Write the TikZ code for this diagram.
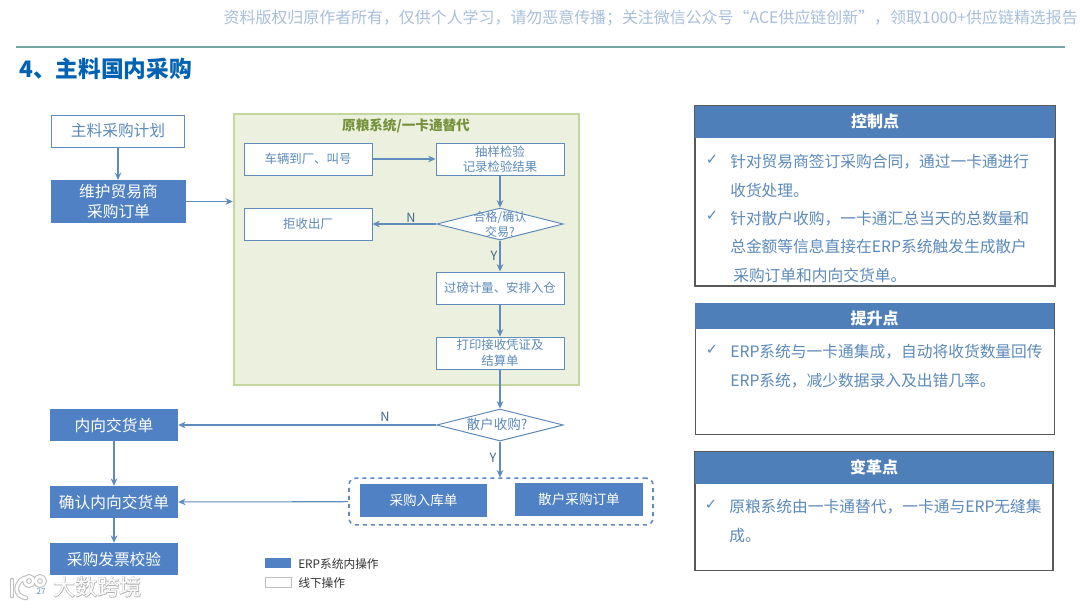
\documentclass[tikz,border=0pt]{standalone}
\usepackage{fontspec}
\setmainfont{Noto Sans CJK SC}
\newfontfamily\chkfont{DejaVu Sans}
\newfontfamily\wmfatfont[FakeBold=4]{Noto Sans CJK SC}
\usetikzlibrary{arrows.meta,shapes.geometric}
\definecolor{flowblue}{HTML}{4F81C4}
\definecolor{linkblue}{HTML}{5F8BBD}
\definecolor{wordblue}{HTML}{5C8ABA}
\definecolor{headblue}{HTML}{4F7FB9}
\definecolor{greenfill}{HTML}{EBF1DE}
\definecolor{greenline}{HTML}{C3D69B}
\definecolor{greenword}{HTML}{76923C}
\tikzset{
  sizeA/.style={font=\fontsize{11.8}{15}\selectfont},
  sizeB/.style={font=\fontsize{9.3}{11.6}\selectfont},
  sizeC/.style={font=\fontsize{10.2}{13}\selectfont},
  erpbox/.style={rectangle,fill=flowblue,text=white,inner sep=0pt,align=center},
  offbox/.style={rectangle,draw=linkblue,line width=0.75pt,fill=white,text=wordblue,inner sep=0pt,align=center},
  smallbox/.style={offbox,sizeB,minimum width=96pt,minimum height=24pt},
  leftbox/.style={erpbox,sizeA,minimum width=96pt,minimum height=24pt},
  decide/.style={diamond,draw=linkblue,line width=0.75pt,fill=white,inner sep=0pt,minimum width=95pt,minimum height=24pt},
  link/.style={-{Stealth[length=5.5pt,width=5pt]},draw=linkblue,line width=0.8pt},
  yn/.style={text=wordblue!75!black,font=\fontsize{9.5}{11}\selectfont,inner sep=0pt},
  panelhead/.style={rectangle,fill=headblue,text=white,font=\fontsize{12}{15}\selectfont\bfseries,inner sep=0pt,minimum width=270pt},
  panelbody/.style={rectangle,draw=black!65,line width=0.8pt,fill=white,inner sep=0pt},
  pointline/.style={anchor=west,text=wordblue,sizeA,inner sep=0pt,text height=10.5pt,text depth=1.5pt},
  tick/.style={text=wordblue,font=\chkfont\fontsize{11}{12}\selectfont,inner sep=0pt},
}
\begin{document}
\begin{tikzpicture}[x=0.75pt,y=-0.75pt,>=Stealth]
\useasboundingbox (0,0) rectangle (1080,608);
\fill[white] (0,0) rectangle (1080,608);
% ---- 页眉与标题 ----
\node[anchor=east,inner sep=0pt,text=headblue!50!white,font=\fontsize{11.95}{14}\selectfont] (notice) at (1078,18)
  {资料版权归原作者所有，仅供个人学习，请勿恶意传播；关注微信公众号“ACE供应链创新”，领取1000+供应链精选报告};
\coordinate (ruleL) at (16,47);
\coordinate (ruleR) at (1065,47);
\draw[color=teal!55!gray!70,line width=0.9pt] (ruleL) -- (ruleR);
\node[anchor=west,inner sep=0pt,text=blue!45!cyan!70!black,font=\fontsize{17}{20}\selectfont\bfseries] (pagetitle) at (19,69) {4、主料国内采购};
% ---- 一卡通区域 ----
\node[rectangle,draw=greenline,fill=greenfill,line width=1.6pt,minimum width=259pt,minimum height=203pt,inner sep=0pt] (cardzone) at (406.5,249.5) {};
\node[text=greenword,inner sep=0pt,font=\fontsize{10.2}{12}\selectfont\bfseries] (cardtitle) at (406,126) {原粮系统/一卡通替代};
% ---- 左列 ----
\node[offbox,sizeA,minimum width=100pt,minimum height=24pt] (plan) at (118,131) {主料采购计划};
\node[erpbox,sizeA,minimum width=101pt,minimum height=32pt] (order) at (118.5,201.5) {维护贸易商\\采购订单};
\node[leftbox] (delivery) at (114,425) {内向交货单};
\node[leftbox] (confirm) at (114,502) {确认内向交货单};
\node[leftbox] (invoice) at (114,559) {采购发票校验};
% ---- 区域内步骤 ----
\node[smallbox] (arrive) at (308,159) {车辆到厂、叫号};
\node[smallbox] (sample) at (500,159) {抽样检验\\记录检验结果};
\node[smallbox] (reject) at (308,224) {拒收出厂};
\node[decide] (check) at (500,224) {};
\node[text=wordblue,inner sep=0pt,align=center,font=\fontsize{9}{11.2}\selectfont] (checkword) at (500,224) {合格/确认\\交易?};
\node[smallbox] (weigh) at (500,288) {过磅计量、安排入仓};
\node[smallbox] (receipt) at (500,353) {打印接收凭证及\\结算单};
\node[decide] (retail) at (500,425) {};
\node[text=wordblue,inner sep=0pt,sizeC] (retailword) at (497,424) {散户收购?};
% ---- 虚线框与两张单据 ----
\node[rectangle,rounded corners=5pt,draw=linkblue,dashed,line width=1.2pt,minimum width=228pt,minimum height=35pt,inner sep=0pt] (pair) at (501,501.5) {};
\node[erpbox,sizeC,minimum width=95.5pt,minimum height=24.5pt] (inbound) at (423.5,500.5) {采购入库单};
\node[erpbox,sizeC,minimum width=96pt,minimum height=24.5pt] (retailorder) at (579,499.5) {散户采购订单};
% ---- 连线 ----
\draw[link] (plan) -- (plan |- order.north);
\draw[link] (order) -- (order -| cardzone.west);
\draw[link] (arrive) -- (sample);
\draw[link] (sample) -- (check);
\draw[link] (check) -- (reject);
\draw[link] (check) -- (weigh);
\draw[link] (weigh) -- (receipt);
\draw[link] (receipt) -- (retail);
\draw[link] (retail) -- (delivery);
\draw[link] (retail) -- (retail |- pair.north);
\draw[link] (delivery) -- (confirm);
\draw[link] (pair) -- (confirm);
\draw[link] (confirm) -- (invoice);
\node[yn] (checkN) at (411,218) {N};
\node[yn] (checkY) at (494,256) {Y};
\node[yn] (retailN) at (385,417) {N};
\node[yn] (retailY) at (493,458) {Y};
% ---- 图例 ----
\node[rectangle,fill=flowblue,minimum width=19.5pt,minimum height=7.5pt,inner sep=0pt] (legendA) at (278,563) {};
\node[rectangle,draw=black!25,fill=white,line width=0.6pt,minimum width=19.5pt,minimum height=7.5pt,inner sep=0pt] (legendB) at (278,582) {};
\node[anchor=west,inner sep=0pt,font=\fontsize{8.8}{11}\selectfont,text=black!80] (legendAword) at (298,564) {ERP系统内操作};
\node[anchor=west,inner sep=0pt,font=\fontsize{8.8}{11}\selectfont,text=black!80] (legendBword) at (298,583) {线下操作};
% ---- 右侧：控制点 ----
\node[panelbody,minimum width=270pt,minimum height=135pt] (ctrlbody) at (875,196) {};
\node[panelhead,minimum height=24pt] (ctrlhead) at (875,122) {};
\node[text=white,inner sep=0pt,font=\fontsize{12}{15}\selectfont\bfseries] (ctrlword) at (875,121) {控制点};
\foreach \y/\t in {161/针对贸易商签订采购合同，通过一卡通进行,190/收货处理。,218/针对散户收购，一卡通汇总当天的总数量和,246/总金额等信息直接在ERP系统触发生成散户}
  \node[pointline] (ctrlline\y) at (730,\y) {\t};
\node[pointline] (ctrllast) at (733,275) {采购订单和内向交货单。};
\node[tick] (ctrltickA) at (712,160) {✓};
\node[tick] (ctrltickB) at (712,216) {✓};
% ---- 右侧：提升点 ----
\node[panelbody,minimum width=269pt,minimum height=98pt] (liftbody) at (875,369) {};
\node[panelhead,minimum width=269.5pt,minimum height=19pt] (lifthead) at (874.5,316) {};
\node[text=white,inner sep=0pt,font=\fontsize{12}{15}\selectfont\bfseries] (liftword) at (874.5,318) {提升点};
\node[pointline] (liftlineA) at (730,351) {ERP系统与一卡通集成，自动将收货数量回传};
\node[pointline] (liftlineB) at (730,380) {ERP系统，减少数据录入及出错几率。};
\node[tick] (lifttick) at (712,350) {✓};
% ---- 右侧：变革点 ----
\node[panelbody,minimum width=268.5pt,minimum height=89pt] (turnbody) at (874,511) {};
\node[panelhead,minimum width=269pt,minimum height=24pt] (turnhead) at (874,468) {};
\node[text=white,inner sep=0pt,font=\fontsize{12}{15}\selectfont\bfseries] (turnword) at (874,467) {变革点};
\node[pointline] (turnlineA) at (729,506) {原粮系统由一卡通替代，一卡通与ERP无缝集};
\node[pointline] (turnlineB) at (729,535) {成。};
\node[tick] (turntick) at (711,505) {✓};
% ---- 水印 ----
\foreach \c/\w in {black!25/3.6pt,white/2pt}{
  \draw[\c,line width=\w,line cap=round] (12,580) -- (12,596);
  \draw[\c,line width=\w,line cap=round] (24,578) .. controls (14,584) and (14,596) .. (26,598);
  \draw[\c,line width=\w] (29,581) circle (4.5) (40,581) circle (4.5);}
\node[inner sep=0pt,text=wordblue,font=\fontsize{6}{7}\selectfont] (pagenum) at (41,592) {27};
\node[anchor=west,inner sep=0pt,text=black!30,font=\wmfatfont\fontsize{16.5}{18}\selectfont] (markback) at (53,587) {大数跨境};
\node[anchor=west,inner sep=0pt,text=white,font=\fontsize{16.5}{18}\selectfont] (markfront) at (53,587) {大数跨境};
\end{tikzpicture}
\end{document}
